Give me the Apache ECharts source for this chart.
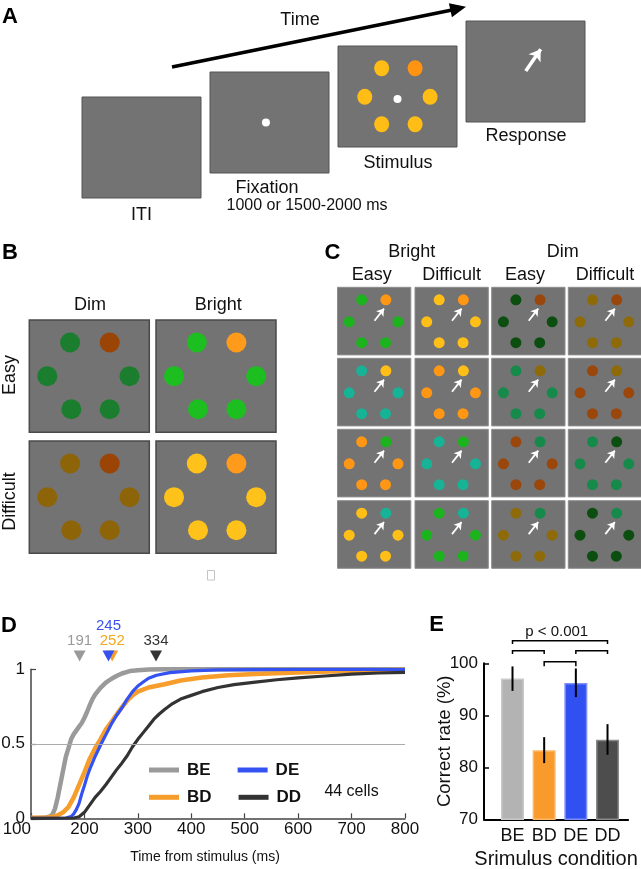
<!DOCTYPE html>
<html><head><meta charset="utf-8">
<script src="https://cdn.jsdelivr.net/npm/echarts@6/dist/echarts.min.js"></script>
<style>html,body{margin:0;padding:0;background:#fff}#c{width:641px;height:869px}</style>
</head><body><div id="c"></div>
<script>
const FONT = '"Liberation Sans", Arial, Helvetica, sans-serif';

// ---------- Panel D: cumulative distributions of response time ----------
const beT = [100,125,135,140,145,150,155,160,165,170,175,180,185,190,195,200,205,210,215,220,230,240,250,260,270,285,300,320,350,400,500,800];
const beV = [0,0.003,0.012,0.025,0.065,0.14,0.23,0.32,0.41,0.47,0.53,0.565,0.59,0.615,0.64,0.675,0.715,0.76,0.8,0.83,0.875,0.91,0.935,0.955,0.972,0.988,0.994,0.998,1,1,1,1];
const bdT = [100,130,140,150,160,170,180,190,200,210,220,230,240,250,260,270,280,290,300,320,350,380,420,470,520,600,700,800];
const bdV = [0.003,0.006,0.01,0.02,0.04,0.075,0.14,0.225,0.31,0.4,0.47,0.53,0.595,0.645,0.695,0.745,0.79,0.825,0.85,0.878,0.9,0.925,0.945,0.96,0.968,0.978,0.99,0.997];
const deT = [100,165,175,180,185,190,195,200,205,210,220,230,240,250,260,270,280,290,300,310,320,335,360,400,450,600,800];
const deV = [0,0.002,0.012,0.03,0.06,0.1,0.165,0.22,0.28,0.33,0.415,0.49,0.56,0.63,0.69,0.74,0.8,0.85,0.888,0.915,0.94,0.96,0.978,0.99,0.996,0.999,1];
const ddT = [100,180,190,200,210,220,230,240,250,260,270,280,290,300,310,320,330,340,350,365,380,400,420,450,480,520,560,600,650,700,750,800];
const ddV = [0,0.002,0.01,0.04,0.09,0.14,0.18,0.225,0.275,0.325,0.37,0.42,0.48,0.53,0.575,0.62,0.665,0.7,0.73,0.77,0.8,0.825,0.85,0.878,0.897,0.914,0.93,0.942,0.955,0.967,0.975,0.98];
const condNames = ['BE','BD','DE','DD'];
const medianRT = [191, 252, 245, 334];      // BE, BD, DE, DD
const dTicks = [100, 800, 100];             // min, max, step
const cellCount = '44 cells';

// ---------- Panel E: correct rate ----------
const eCats = ['BE','BD','DE','DD'];
const eRate = [97.1, 83.3, 96.2, 85.3];
const eLow  = [94.7, 80.8, 93.5, 82.4];
const eHigh = [99.4, 85.8, 99.0, 88.3];
const sigFrom = [1, 1, 3, 2];
const sigTo   = [4, 2, 4, 3];
const sigTop  = [104.35, 102.42, 102.42, 100.3];
const sigDrop = [103.7, 101.8, 101.8, 99.45];
const sigText = 'p < 0.001';

// ---------- Colours ----------
const condColor = {BE:'#9a9a9a', BD:'#f79d2b', DE:'#3452f2', DD:'#333333'};
const barFill   = ['#b3b3b3', '#f89a2c', '#3050f2', '#4d4d4d'];
const barEdge   = ['#c9c9c9', '#fbb868', '#7d8ff3', '#8a8a8a'];
const col = {green:'#1cb41d', orange:'#ff9614', yellow:'#ffbf17', teal:'#17b396',
             dkgreen:'#0c4e10', brown:'#9b460a', olive:'#8f6a08', dimteal:'#158a4a'};
// panel C: [distractor, target] per cell, rows x (BE, BD, DE, DD)
const cCells = [
  [['green','orange'],['yellow','orange'],['dkgreen','brown'],['olive','brown']],
  [['teal','yellow'],['orange','yellow'],['dimteal','olive'],['brown','olive']],
  [['orange','green'],['teal','green'],['brown','dimteal'],['dimteal','dkgreen']],
  [['yellow','teal'],['green','teal'],['olive','dimteal'],['dkgreen','dimteal']]
];
// panel B: [distractor, target]
const bCells = [
  [['#1a7e2e','#9a4406'], ['#1cbf1f','#ff9a1a']],
  [['#8e6409','#9a4406'], ['#ffc21a','#ff9a1a']]
];
const aStim = ['#ffbd16','#ff9412'];

// ---------- Layout of the schematic (positions inside a box, 0..100) ----------
const hexA = [[36.7,22],[64.8,22],[22.5,50.3],[77.4,50.3],[36.7,77.5],[64.8,77.5]];
const hexB = [[34,20],[67,20],[15,50],[83.5,50],[35,79.5],[67,79.5]];
const hexC = [[33,18.5],[66,18.5],[16,51],[82.5,51],[33,82],[65.5,82]];
const TARGET = 1;

const grids = [], xAxes = [], yAxes = [], series = [];
function addBox(left, top, w, h, border, bw) {
  const i = grids.length;
  grids.push({left, top, width:w, height:h, show:true, backgroundColor:'#737373',
              borderColor:border, borderWidth:bw, outerBoundsMode:'none', containLabel:false});
  xAxes.push({gridIndex:i, type:'value', min:0, max:100, show:false});
  yAxes.push({gridIndex:i, type:'value', min:0, max:100, inverse:true, show:false});
  return i;
}
function addDots(i, pts, colors, size) {
  series.push({type:'scatter', xAxisIndex:i, yAxisIndex:i, symbolSize:size, silent:true,
    animation:false, itemStyle:{opacity:1},
    data: pts.map((p,k)=>({value:p, itemStyle:{color:colors[k]}}))});
}
function addArrow(i, coords, width, head) {
  series.push({type:'lines', coordinateSystem:'cartesian2d', xAxisIndex:i, yAxisIndex:i,
    silent:true, animation:false, symbol:['none','arrow'], symbolSize:head,
    lineStyle:{color:'#ffffff', width:width, opacity:1, curveness:0}, data:[{coords}]});
}

// Panel A boxes
const aLeft = [82, 210, 338, 466], aTop = [97, 72, 46, 21];
const aIdx = aLeft.map((l,k)=>addBox(l, aTop[k], 119, 101, '#555555', 1));
addDots(aIdx[1], [[47,50]], ['#ffffff'], 8);
addDots(aIdx[2], hexA, hexA.map((p,k)=>k===TARGET?aStim[1]:aStim[0]), [15,16]);
addDots(aIdx[2], [[50,52.5]], ['#ffffff'], 8);
addArrow(aIdx[3], [[50.2,49.5],[62.8,28]], 3.5, 11);

// Panel B boxes
const bLeft = [29.3, 156], bTop = [320, 441];
bTop.forEach((t,r)=>bLeft.forEach((l,c)=>{
  const i = addBox(l, t, 120, 112.3, '#4a4a4a', 1.5);
  addDots(i, hexB, hexB.map((p,k)=>k===TARGET?bCells[r][c][1]:bCells[r][c][0]), 20);
}));

// Panel C cells
const cLeft = [337.5, 415, 491.7, 568.3], cTop = [287.3, 358.3, 429.3, 500.7];
cTop.forEach((t,r)=>cLeft.forEach((l,c)=>{
  const i = addBox(l, t, 73.3, 67.6, '#8c8c8c', 1);
  const pair = cCells[r][c];
  addDots(i, hexC, hexC.map((p,k)=>col[k===TARGET?pair[1]:pair[0]]), 11);
  addArrow(i, [[50.5,49.5],[63.5,31.5]], 1.8, 7);
}));

// ---------- Panel D grid ----------
const dIdx = grids.length;
grids.push({left:31, right:236, top:669.3, bottom:50.7, outerBoundsMode:'none', containLabel:false});
xAxes.push({gridIndex:dIdx, type:'value', min:dTicks[0], max:dTicks[1], interval:dTicks[2],
  axisLine:{show:true, lineStyle:{color:'#444', width:1.5}},
  axisTick:{show:true, inside:true, length:5, lineStyle:{color:'#444', width:1.2}},
  axisLabel:{color:'#111', fontSize:17, fontFamily:FONT, margin:3, alignMinLabel:'right'},
  splitLine:{show:false},
  name:'Time from stimulus (ms)', nameLocation:'middle', nameGap:32, nameMoveOverlap:false,
  nameTextStyle:{color:'#111', fontSize:14, fontFamily:FONT, padding:[0,26,0,0]}});
yAxes.push({gridIndex:dIdx, type:'value', min:0, max:1, interval:0.5,
  axisLine:{show:true, lineStyle:{color:'#444', width:1.5}},
  axisTick:{show:true, inside:true, length:5, lineStyle:{color:'#444', width:1.2}},
  axisLabel:{color:'#111', fontSize:17, fontFamily:FONT, margin:6},
  splitLine:{show:false}});
const curves = {BE:[beT,beV], BD:[bdT,bdV], DE:[deT,deV], DD:[ddT,ddV]};
const widths = {BE:4.5, BD:4.5, DE:3.2, DD:3.2};
['BE','BD','DE','DD'].forEach((n,k)=>{
  const s = {type:'line', name:n, xAxisIndex:dIdx, yAxisIndex:dIdx, color:condColor[n],
    showSymbol:false, symbol:'none', animation:false, silent:true,
    lineStyle:{color:condColor[n], width:widths[n]},
    data: curves[n][0].map((t,j)=>[t, curves[n][1][j]])};
  if (k===0) s.markLine = {silent:true, symbol:'none', animation:false, label:{show:false},
    lineStyle:{color:'#aaaaaa', type:'solid', width:1.2}, data:[{yAxis:0.5}]};
  series.push(s);
});
// median markers (orange drawn before blue so blue sits in front)
const markOrder = [0, 1, 2, 3];
const labelColor = {BE:'#9a9a9a', BD:'#f2a71c', DE:'#3a52f0', DD:'#333333'};
series.push({type:'scatter', xAxisIndex:dIdx, yAxisIndex:dIdx, clip:false, silent:true,
  animation:false, symbol:'triangle', symbolRotate:180, symbolSize:[12,11], z:5,
  itemStyle:{opacity:1},
  label:{show:true, position:'top', distance:2, fontSize:15, fontFamily:FONT,
         formatter:p=>String(p.value[0])},
  data: markOrder.map(k=>{
    const n = condNames[k];
    return {value:[medianRT[k], 1.089], itemStyle:{color:condColor[n]},
      label:{color:labelColor[n], distance: n==='DE'?17:2}};
  })});

// ---------- Panel E grid ----------
const eIdx = grids.length;
grids.push({left:484, right:12.9, top:663.3, bottom:49.7, outerBoundsMode:'none', containLabel:false});
xAxes.push({gridIndex:eIdx, type:'value', min:0.1, max:4.65,
  axisLine:{show:true, lineStyle:{color:'#000', width:2}},
  axisTick:{show:false}, splitLine:{show:false},
  axisLabel:{customValues:[1,2,3,4], formatter:v=>eCats[Math.round(v)-1] || '',
             color:'#111', fontSize:18, fontFamily:FONT, margin:8},
  name:'Srimulus condition', nameLocation:'middle', nameGap:30, nameMoveOverlap:false,
  nameTextStyle:{color:'#111', fontSize:20, fontFamily:FONT}});
yAxes.push({gridIndex:eIdx, type:'value', min:70, max:100, interval:10,
  axisLine:{show:true, lineStyle:{color:'#000', width:2}},
  axisTick:{show:true, inside:true, length:5, lineStyle:{color:'#000', width:1.5}},
  axisLabel:{color:'#111', fontSize:17, fontFamily:FONT, margin:6},
  splitLine:{show:false},
  name:'Correct rate (%)', nameLocation:'middle', nameGap:30, nameMoveOverlap:false,
  nameTextStyle:{color:'#111', fontSize:18.5, fontFamily:FONT}});
series.push({type:'bar', xAxisIndex:eIdx, yAxisIndex:eIdx, barWidth:23, silent:true,
  animation:false,
  data: eRate.map((v,k)=>({value:[k+1, v],
    itemStyle:{color:barFill[k], borderColor:barEdge[k], borderWidth:1.5}}))});
series.push({type:'custom', xAxisIndex:eIdx, yAxisIndex:eIdx, silent:true, animation:false,
  clip:false, z:4, encode:{x:0, y:[1,2]},
  data: eLow.map((lo,k)=>[k+1, lo, eHigh[k]]),
  renderItem:(params, api)=>{
    const a = api.coord([api.value(0), api.value(1)]);
    const b = api.coord([api.value(0), api.value(2)]);
    return {type:'line', shape:{x1:a[0], y1:a[1], x2:b[0], y2:b[1]},
            style:{stroke:'#000', lineWidth:2}};
  }});
series.push({type:'custom', xAxisIndex:eIdx, yAxisIndex:eIdx, silent:true, animation:false,
  clip:false, z:4, encode:{x:[0,1], y:[2,3]},
  data: sigFrom.map((f,k)=>[f, sigTo[k], sigTop[k], sigDrop[k]]),
  renderItem:(params, api)=>{
    const x1 = api.value(0), x2 = api.value(1), yt = api.value(2), yd = api.value(3);
    const pts = [api.coord([x1,yd]), api.coord([x1,yt]), api.coord([x2,yt]), api.coord([x2,yd])];
    return {type:'polyline', shape:{points:pts}, style:{stroke:'#000', lineWidth:1.5, fill:null}};
  }});

// ---------- Text ----------
function txt(x, y, s, size, opts) {
  opts = opts || {};
  return {type:'text', x, y, rotation:opts.rot || 0, silent:true, z:10,
    style:{text:s, fill:opts.color || '#111',
      font:(opts.bold?'bold ':'') + size + 'px ' + FONT,
      textAlign:'center', textVerticalAlign:'middle'}};
}
const graphic = [
  // panel letters
  txt(10, 17, 'A', 22, {bold:true, color:'#000'}),
  txt(10, 253, 'B', 22, {bold:true, color:'#000'}),
  txt(332.5, 253, 'C', 22, {bold:true, color:'#000'}),
  txt(9, 626, 'D', 22, {bold:true, color:'#000'}),
  txt(436.5, 625, 'E', 22, {bold:true, color:'#000'}),
  // panel A
  {type:'line', silent:true, shape:{x1:172, y1:67, x2:452, y2:10}, style:{stroke:'#000', lineWidth:3.6}},
  {type:'polygon', silent:true, shape:{points:[[466,6.7],[451.9,17.3],[448.9,3.3]]}, style:{fill:'#000'}},
  txt(300, 20, 'Time', 18),
  txt(141.5, 215, 'ITI', 18),
  txt(267, 188, 'Fixation', 18),
  txt(307, 206, '1000 or 1500-2000 ms', 16),
  txt(398, 163, 'Stimulus', 18),
  txt(526, 136.5, 'Response', 18),
  // panel B
  txt(90, 305, 'Dim', 18),
  txt(218.3, 305, 'Bright', 18),
  txt(10, 375, 'Easy', 18, {rot:Math.PI/2}),
  txt(10, 501.5, 'Difficult', 18, {rot:Math.PI/2}),
  {type:'rect', silent:true, shape:{x:207.5, y:570.5, width:7, height:9.5}, style:{fill:'#fff', stroke:'#c4c4c4', lineWidth:1}},
  // panel C
  txt(411.7, 251.7, 'Bright', 18),
  txt(562.7, 251.7, 'Dim', 18),
  txt(371.7, 275, 'Easy', 18),
  txt(451.7, 275, 'Difficult', 18),
  txt(525, 275, 'Easy', 18),
  txt(605, 275, 'Difficult', 18),
  // panel D
  txt(351.5, 792, cellCount, 16),
  // panel E
  txt(556.7, 631.5, sigText, 15)
];

const legendBase = {icon:'rect', itemWidth:30, itemHeight:5, itemGap:27, selectedMode:false,
  textStyle:{color:'#111', fontSize:17, fontWeight:'bold', fontFamily:FONT, padding:[0,0,0,3]}};
const option = {
  animation:false,
  backgroundColor:'#ffffff',
  grid:grids, xAxis:xAxes, yAxis:yAxes, series,
  legend:[
    Object.assign({}, legendBase, {data:['BE','DE'], left:144, top:756.5}),
    Object.assign({}, legendBase, {data:['BD','DD'], left:144, top:783.8})
  ],
  graphic
};
const chart = echarts.init(document.getElementById('c'), null, {renderer:'canvas', width:641, height:869});
chart.setOption(option);
</script></body></html>
